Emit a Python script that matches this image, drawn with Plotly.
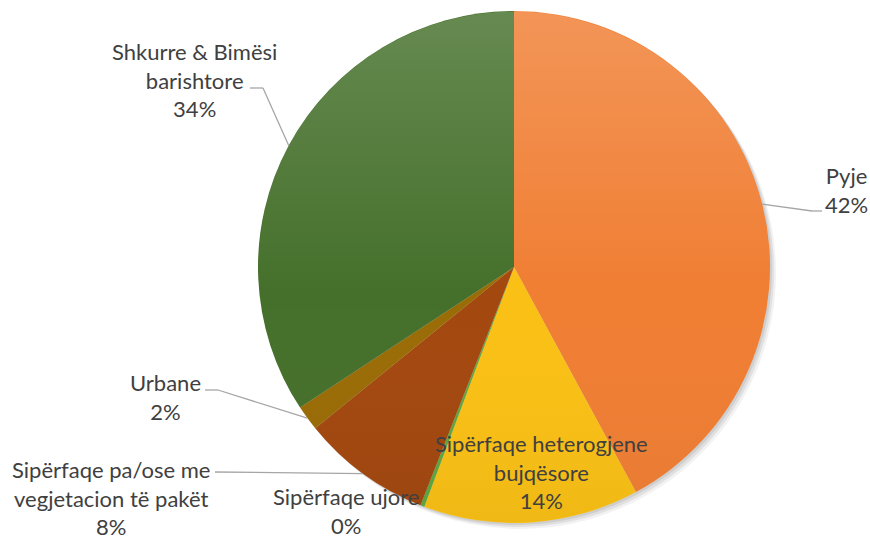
import math
import urllib.parse
import plotly.graph_objects as go

# ---- data ----
categories = ["Pyje", "Sipërfaqe heterogjene bujqësore", "Sipërfaqe ujore",
              "Sipërfaqe pa/ose me vegjetacion të pakët", "Urbane", "Shkurre & Bimësi barishtore"]
values = [42.1, 13.6, 0.25, 8.2, 1.6, 34.25]
label_texts = ["Pyje<br>42%", "Sipërfaqe heterogjene<br>bujqësore<br>14%", "Sipërfaqe ujore<br>0%",
               "Sipërfaqe pa/ose me<br>vegjetacion të pakët<br>8%", "Urbane<br>2%",
               "Shkurre & Bimësi<br>barishtore<br>34%"]
colors = ["#F07E33", "#FAC015", "#5EA83F", "#A3480F", "#9A6C06", "#45702B"]

W, H = 870, 539
cx, cy, R = 514, 267, 256

def px(x):
    return x / W

def py(y):
    return 1 - y / H

fig = go.Figure()

# soft drop shadow
for off, a in [(6, 0.05), (4, 0.07), (2, 0.08)]:
    fig.add_trace(go.Pie(values=[1], marker=dict(colors=[f"rgba(0,0,0,{a})"], line=dict(width=0)),
                         textinfo="none", hoverinfo="skip", showlegend=False, sort=False,
                         domain=dict(x=[px(cx - R + off), px(cx + R + off)],
                                     y=[py(cy + R + off), py(cy - R + off)])))

fig.add_trace(go.Pie(
    labels=categories, values=values, sort=False, direction="clockwise", rotation=0,
    marker=dict(colors=colors, line=dict(width=0)),
    textinfo="none", hoverinfo="label+percent", showlegend=False,
    domain=dict(x=[px(cx - R), px(cx + R)], y=[py(cy + R), py(cy - R)]),
))

# subtle vertical gradient overlay (light at top, slightly darker at bottom)
svg = ("<svg xmlns='http://www.w3.org/2000/svg' width='512' height='512' viewBox='0 0 512 512'>"
       "<defs><linearGradient id='g' x1='0' y1='0' x2='0' y2='1'>"
       "<stop offset='0' stop-color='white' stop-opacity='0.18'/>"
       "<stop offset='0.55' stop-color='white' stop-opacity='0'/>"
       "<stop offset='1' stop-color='black' stop-opacity='0.04'/>"
       "</linearGradient></defs><circle cx='256' cy='256' r='255.5' fill='url(#g)'/></svg>")
fig.add_layout_image(source="data:image/svg+xml;charset=utf-8," + urllib.parse.quote(svg),
                     xref="paper", yref="paper", x=px(cx - R), y=py(cy - R),
                     sizex=px(2 * R), sizey=2 * R / H, xanchor="left", yanchor="top",
                     sizing="stretch", layer="above")

# label positions (pixel centres) and leader-line elbows
label_pos = [(846, 190), (541, 472), (346, 511), (111, 498), (165, 397), (194, 80)]
leader = {0: [(812, 211), (822, 211)], 3: [(215, 472)], 4: [(218, 390), (205, 390)],
          5: [(263, 88), (250, 88)]}

total = sum(values)
cum = 0
mids = []
for v in values:
    mids.append((cum + v / 2) / total * 360)
    cum += v

for i, (t, (x, y)) in enumerate(zip(label_texts, label_pos)):
    fig.add_annotation(x=px(x), y=py(y), xref="paper", yref="paper", text=t, showarrow=False,
                       xanchor="center", yanchor="middle", align="center",
                       font=dict(family="Lato, Open Sans, sans-serif", size=22, color="#404040"))

for i, pts in leader.items():
    ang = math.radians(mids[i])
    ex, ey = cx + R * math.sin(ang), cy - R * math.cos(ang)
    path = [(ex, ey)] + pts
    for (x0, y0), (x1, y1) in zip(path[:-1], path[1:]):
        fig.add_shape(type="line", xref="paper", yref="paper", x0=px(x0), y0=py(y0), x1=px(x1), y1=py(y1),
                      line=dict(color="#A6A6A6", width=1.3))

fig.update_layout(width=W, height=H, margin=dict(l=0, r=0, t=0, b=0),
                  paper_bgcolor="white", plot_bgcolor="white")
fig.write_html("out.html", config={"displayModeBar": False},
               post_script="document.body.style.margin='0';")
